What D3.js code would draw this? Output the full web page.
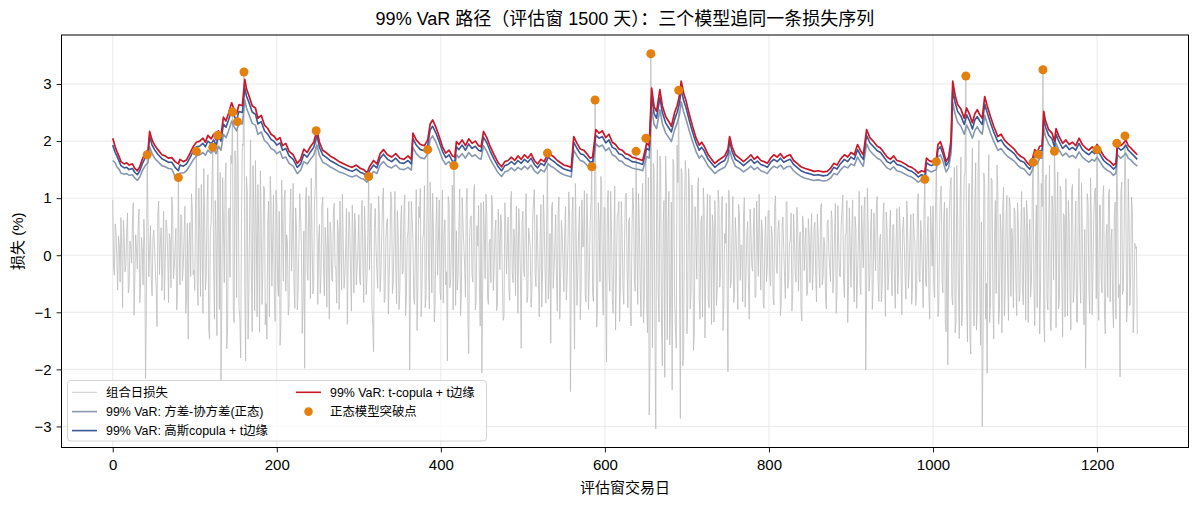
<!DOCTYPE html>
<meta charset="utf-8">
<style>
body {
  margin: 0;
  background: #fff;
  font-family: 'Liberation Sans', 'Noto Sans CJK SC', sans-serif;
}
.axis .domain {
  display: none;
}
.axis text {
  font-size: 15px;
  fill: #000;
}
.grid line {
  stroke: #e4e4e4;
  stroke-width: 0.8;
}
</style>
<svg width="1199" height="505"></svg>
<script src="https://d3js.org/d3.v7.min.js"></script>
<script>
// evaluation days on which the VaR paths were read
var varDays = [
  0,3,5,8,10,14,17,20,24,27,
  30,33,36,40,43,45,48,51,55,60,
  64,68,72,76,80,82,86,90,94,98,
  102,106,110,113,116,120,123,126,129,132,
  135,138,141,145,148,151,154,158,161,163,
  166,170,174,177,181,185,189,193,197,200,
  204,207,211,215,220,225,229,233,237,241,
  245,249,252,256,260,265,270,276,282,288,
  292,297,302,306,310,313,318,322,326,330,
  335,340,345,350,355,360,364,366,370,375,
  380,384,387,390,394,398,402,406,410,414,
  417,419,422,426,430,434,438,442,446,449,
  452,456,460,465,470,474,478,482,486,490,
  494,498,502,506,510,514,518,522,526,531,
  534,538,542,546,550,555,559,562,566,570,
  574,578,582,585,589,593,597,601,605,609,
  613,617,621,625,629,633,638,642,646,651,
  654,657,660,663,667,670,674,678,681,685,
  688,691,693,696,699,703,707,711,715,718,
  721,726,730,734,738,742,746,750,752,755,
  759,764,769,774,778,782,786,790,794,798,
  802,806,810,814,818,822,826,830,835,839,
  844,849,855,860,866,871,875,879,883,887,
  892,896,900,904,908,912,915,919,923,927,
  932,936,940,944,948,952,956,961,966,970,
  974,978,982,986,990,992,995,998,1001,1004,
  1006,1009,1012,1016,1019,1022,1024,1027,1030,1034,
  1038,1041,1045,1048,1051,1054,1057,1060,1063,1066,
  1070,1074,1079,1083,1087,1091,1095,1099,1103,1107,
  1111,1115,1118,1121,1124,1127,1130,1133,1135,1137,
  1141,1145,1148,1150,1153,1158,1162,1166,1170,1174,
  1178,1182,1186,1190,1194,1197,1200,1204,1208,1212,
  1216,1220,1223,1225,1229,1232,1235,1238,1241,1245,
  1249
];

// 99% VaR: t-copula + t margins
var varT = [
  2.05,1.90,1.82,1.72,1.64,1.60,1.62,1.58,1.60,1.52,
  1.48,1.55,1.68,1.80,1.84,2.17,2.02,1.93,1.85,1.76,
  1.74,1.70,1.71,1.64,1.60,1.68,1.64,1.67,1.78,1.90,
  1.98,2.00,2.05,1.98,2.10,2.04,2.12,2.02,2.18,2.10,
  2.42,2.35,2.48,2.67,2.55,2.48,2.64,2.62,3.08,2.92,
  2.80,2.62,2.58,2.40,2.45,2.28,2.22,2.12,2.08,2.02,
  2.06,1.92,1.96,1.82,1.76,1.61,1.68,1.86,1.80,1.90,
  1.98,2.20,1.98,1.84,1.80,1.74,1.70,1.64,1.60,1.56,
  1.54,1.58,1.52,1.50,1.44,1.55,1.66,1.60,1.78,1.85,
  1.76,1.72,1.78,1.70,1.68,1.74,1.68,2.14,2.02,1.94,
  1.92,2.02,2.30,2.37,2.24,2.08,1.90,1.79,1.84,1.74,
  1.72,1.99,1.94,2.02,1.92,2.04,1.96,2.00,1.92,1.90,
  2.17,2.06,1.91,1.76,1.62,1.55,1.64,1.66,1.72,1.66,
  1.74,1.68,1.76,1.70,1.78,1.66,1.60,1.68,1.64,1.80,
  1.76,1.72,1.66,1.62,1.58,1.56,1.54,2.08,1.96,1.86,
  1.84,1.78,1.70,1.72,2.20,2.14,2.18,2.06,2.12,1.98,
  1.94,1.86,1.84,1.78,1.76,1.72,1.70,1.68,1.66,1.96,
  1.92,2.93,2.60,2.52,2.90,2.62,2.43,2.34,2.26,2.50,
  2.62,2.80,3.05,2.84,2.70,2.46,2.25,2.06,1.93,1.98,
  1.91,1.76,1.68,1.61,1.66,1.70,1.74,1.86,2.08,1.90,
  1.76,1.70,1.64,1.70,1.76,1.68,1.73,1.66,1.64,1.61,
  1.70,1.76,1.72,1.78,1.70,1.74,1.76,1.66,1.60,1.55,
  1.52,1.50,1.47,1.48,1.46,1.47,1.52,1.61,1.58,1.68,
  1.76,1.72,1.80,1.76,1.94,1.82,1.76,2.20,2.06,2.00,
  1.91,1.88,1.80,1.72,1.68,1.74,1.66,1.64,1.60,1.56,
  1.54,1.50,1.44,1.48,1.46,1.70,1.66,1.64,1.66,1.68,
  1.94,1.99,1.86,1.64,1.72,2.02,3.05,2.80,2.64,2.56,
  2.40,2.58,2.45,2.32,2.48,2.55,2.46,2.40,2.78,2.62,
  2.43,2.26,2.08,2.12,2.02,1.96,1.91,1.86,1.78,1.73,
  1.70,1.62,1.58,1.68,1.85,1.80,1.91,1.92,2.52,2.36,
  2.20,2.14,2.00,2.22,2.10,1.96,2.02,1.94,1.98,1.92,
  2.05,1.94,1.88,1.84,1.90,1.86,1.94,1.84,1.74,1.68,
  1.64,1.58,1.62,1.99,1.92,1.96,2.02,1.92,1.88,1.82,
  1.76
];

// 99% VaR: Gaussian copula + t margins
var varGauss = [
  1.93,1.80,1.74,1.64,1.57,1.53,1.54,1.50,1.52,1.45,
  1.41,1.48,1.60,1.72,1.76,2.08,1.93,1.85,1.77,1.69,
  1.66,1.63,1.63,1.54,1.48,1.58,1.56,1.60,1.70,1.82,
  1.90,1.91,1.96,1.90,2.00,1.95,2.02,1.93,2.08,2.00,
  2.30,2.24,2.36,2.55,2.44,2.37,2.52,2.50,2.93,2.79,
  2.68,2.51,2.47,2.30,2.34,2.18,2.12,2.03,1.99,1.93,
  1.97,1.84,1.87,1.74,1.68,1.54,1.60,1.77,1.72,1.81,
  1.89,2.10,1.89,1.76,1.72,1.66,1.62,1.57,1.53,1.49,
  1.47,1.51,1.45,1.43,1.37,1.48,1.58,1.53,1.70,1.77,
  1.68,1.64,1.70,1.62,1.61,1.66,1.60,2.05,1.93,1.85,
  1.83,1.93,2.20,2.26,2.14,1.99,1.82,1.71,1.76,1.65,
  1.64,1.90,1.85,1.93,1.84,1.95,1.87,1.91,1.84,1.82,
  2.07,1.97,1.83,1.68,1.55,1.48,1.57,1.59,1.64,1.59,
  1.66,1.61,1.68,1.63,1.70,1.59,1.53,1.61,1.57,1.72,
  1.68,1.64,1.59,1.55,1.51,1.49,1.47,1.98,1.87,1.78,
  1.76,1.70,1.63,1.64,2.10,2.05,2.08,1.97,2.02,1.89,
  1.86,1.78,1.76,1.70,1.68,1.64,1.63,1.61,1.59,1.87,
  1.84,2.78,2.48,2.40,2.76,2.50,2.32,2.23,2.16,2.38,
  2.50,2.67,2.91,2.71,2.58,2.35,2.15,1.97,1.84,1.89,
  1.83,1.68,1.61,1.54,1.59,1.63,1.66,1.78,1.99,1.82,
  1.68,1.63,1.57,1.63,1.68,1.61,1.65,1.59,1.57,1.54,
  1.63,1.68,1.64,1.70,1.63,1.66,1.68,1.59,1.53,1.48,
  1.45,1.43,1.40,1.41,1.39,1.40,1.45,1.54,1.51,1.60,
  1.68,1.64,1.72,1.68,1.85,1.74,1.68,2.10,1.97,1.91,
  1.83,1.80,1.72,1.64,1.61,1.66,1.59,1.57,1.53,1.49,
  1.47,1.43,1.37,1.41,1.39,1.62,1.59,1.57,1.59,1.60,
  1.85,1.90,1.78,1.57,1.64,1.93,2.90,2.67,2.52,2.44,
  2.29,2.46,2.34,2.21,2.37,2.43,2.35,2.29,2.65,2.50,
  2.32,2.16,1.99,2.02,1.93,1.87,1.83,1.78,1.70,1.65,
  1.63,1.55,1.51,1.60,1.77,1.72,1.83,1.84,2.41,2.25,
  2.10,2.04,1.90,2.12,2.01,1.87,1.93,1.85,1.89,1.84,
  1.96,1.85,1.80,1.76,1.82,1.78,1.85,1.76,1.66,1.61,
  1.57,1.51,1.55,1.90,1.84,1.87,1.93,1.84,1.80,1.74,
  1.68
];

// 99% VaR: variance-covariance (normal)
var varNormal = [
  1.66,1.62,1.55,1.50,1.44,1.42,1.43,1.40,1.41,1.35,
  1.31,1.37,1.48,1.58,1.62,1.90,1.78,1.70,1.64,1.57,
  1.55,1.52,1.51,1.38,1.32,1.44,1.44,1.48,1.57,1.67,
  1.74,1.76,1.80,1.75,1.84,1.79,1.86,1.78,1.91,1.84,
  2.12,2.06,2.17,2.35,2.25,2.18,2.32,2.30,2.72,2.58,
  2.47,2.31,2.28,2.12,2.16,2.01,1.96,1.87,1.84,1.78,
  1.82,1.70,1.72,1.61,1.56,1.43,1.49,1.64,1.60,1.68,
  1.75,1.93,1.75,1.63,1.60,1.55,1.51,1.46,1.43,1.39,
  1.37,1.40,1.35,1.33,1.28,1.36,1.47,1.43,1.58,1.64,
  1.56,1.53,1.58,1.51,1.50,1.54,1.49,1.89,1.78,1.71,
  1.69,1.78,2.03,2.09,1.98,1.84,1.68,1.59,1.64,1.54,
  1.53,1.76,1.71,1.78,1.70,1.80,1.73,1.76,1.70,1.68,
  1.92,1.82,1.69,1.56,1.44,1.38,1.46,1.48,1.53,1.48,
  1.54,1.50,1.56,1.51,1.58,1.48,1.43,1.50,1.46,1.60,
  1.56,1.53,1.48,1.44,1.41,1.39,1.37,1.84,1.74,1.66,
  1.64,1.58,1.52,1.53,1.95,1.90,1.93,1.83,1.88,1.76,
  1.73,1.66,1.64,1.58,1.56,1.53,1.51,1.50,1.48,1.73,
  1.70,2.56,2.29,2.22,2.55,2.31,2.14,2.06,1.99,2.20,
  2.31,2.47,2.69,2.51,2.38,2.17,1.99,1.82,1.70,1.75,
  1.69,1.56,1.50,1.43,1.48,1.51,1.54,1.65,1.84,1.69,
  1.56,1.52,1.46,1.51,1.56,1.50,1.54,1.48,1.46,1.43,
  1.51,1.56,1.53,1.58,1.51,1.55,1.56,1.48,1.42,1.38,
  1.35,1.33,1.31,1.32,1.30,1.31,1.35,1.43,1.41,1.49,
  1.56,1.53,1.60,1.57,1.72,1.62,1.56,1.95,1.83,1.77,
  1.70,1.67,1.60,1.53,1.50,1.55,1.48,1.46,1.42,1.39,
  1.37,1.33,1.28,1.32,1.30,1.51,1.48,1.46,1.48,1.50,
  1.72,1.76,1.65,1.46,1.53,1.79,2.68,2.47,2.33,2.26,
  2.12,2.28,2.16,2.05,2.19,2.25,2.17,2.12,2.45,2.31,
  2.14,2.00,1.84,1.87,1.79,1.73,1.69,1.65,1.58,1.53,
  1.51,1.44,1.40,1.49,1.64,1.60,1.70,1.70,2.23,2.09,
  1.95,1.88,1.77,1.96,1.86,1.74,1.79,1.72,1.75,1.70,
  1.81,1.72,1.67,1.63,1.68,1.65,1.72,1.63,1.54,1.49,
  1.46,1.40,1.44,1.76,1.70,1.74,1.79,1.70,1.67,1.61,
  1.56
];

// portfolio daily loss (%) on even days 0,2,4,...,1248
var lossEven = [
  0.97,-0.35,0.42,-0.61,0.18,0.66,-0.92,0.31,-0.18,0.74,-0.55,0.12,0.58,-1.05,0.36,-0.24,0.81,-0.47,0.09,0.63,-2.16,1.76,-0.38,0.52,-0.71,
  0.44,-0.28,-1.25,0.95,0.21,-0.62,0.77,-0.15,0.48,-0.83,0.29,1.02,-0.41,0.15,-0.96,1.36,-0.52,0.68,-0.19,0.86,-0.73,-1.47,0.57,1.08,-0.34,
  -0.62,1.82,-0.88,0.45,1.24,-1.02,0.71,-0.36,1.41,-1.47,0.58,1.89,-1.12,0.34,2.10,-0.95,-2.19,1.36,-0.48,1.62,-1.31,0.83,1.75,2.51,-1.18,
  1.58,2.34,-0.92,-1.80,1.95,3.21,-1.85,1.12,-0.64,2.02,-1.34,0.78,1.66,-1.08,0.42,1.48,-0.86,1.21,-1.22,-1.47,0.95,1.38,-0.54,1.05,-1.16,
  0.88,-0.72,-1.58,1.32,-0.45,1.14,0.36,-1.05,0.67,-0.28,1.26,-0.93,0.51,-0.62,1.08,0.22,-0.81,-1.98,1.19,-0.44,0.73,1.35,-0.68,0.94,2.18,
  -0.86,0.54,-0.32,1.02,-0.71,0.18,0.83,-1.12,0.37,-0.46,0.91,-0.24,0.62,-0.95,0.29,1.07,-0.58,0.14,-1.21,0.76,-0.37,0.88,-0.66,0.43,-0.19,
  0.71,-0.52,0.96,-0.83,0.25,-0.38,1.38,0.47,-0.91,-1.69,0.82,-0.27,1.04,-0.64,0.39,1.18,-0.76,0.58,-1.03,0.21,0.93,-0.48,1.12,-0.85,0.34,
  -0.62,0.87,-0.29,1.06,-0.74,0.41,-2.01,0.95,0.28,-0.86,1.15,-0.53,0.66,-1.08,0.32,1.22,-0.69,1.85,-0.94,0.58,1.09,-1.17,0.44,-0.35,0.97,
  -0.78,1.14,0.36,-0.52,-1.85,0.91,-0.43,1.23,1.57,-0.88,-0.61,0.48,-1.06,1.01,0.19,-0.73,1.17,-1.72,0.64,-0.35,1.08,-0.96,0.52,0.87,-1.24,
  -2.06,0.94,-0.41,0.73,-0.86,0.28,1.05,-0.62,0.39,-0.97,0.81,-0.25,0.56,-1.14,0.92,-0.33,0.67,-0.79,1.12,-0.48,0.23,0.86,-1.02,0.45,-1.63,
  0.77,-0.38,1.08,-0.72,0.34,-0.91,0.62,1.15,-0.55,0.21,-1.08,0.89,-0.31,0.58,-0.84,1.79,-0.46,-1.54,0.93,-0.27,0.71,-0.98,1.02,-0.43,0.36,
  -0.64,0.85,-0.37,1.11,-2.39,0.74,-0.52,1.26,-0.88,0.43,-1.13,0.97,0.18,-0.69,1.08,-0.95,0.56,1.55,-0.81,2.72,-1.26,0.92,-0.47,1.31,-1.05,
  0.82,-1.87,1.14,-0.63,0.47,-1.02,1.21,-0.39,0.75,-1.16,0.94,-0.58,0.31,1.09,-0.92,0.66,-1.24,1.18,-0.47,1.82,-0.86,0.52,-1.08,1.26,-0.71,
  2.05,-1.36,-2.80,3.53,-1.62,1.48,-3.04,1.85,-1.17,1.62,-1.94,0.96,1.74,-1.48,1.12,-0.83,-2.36,1.58,-1.26,1.93,2.89,-2.86,1.44,-1.72,1.66,
  -1.38,1.52,-0.94,1.23,-1.67,0.85,-0.42,1.36,-1.12,0.69,1.18,-1.45,0.54,-0.78,1.05,-1.21,0.47,0.96,-0.88,1.14,-0.56,0.72,-1.32,0.38,0.91,
  -2.04,0.86,-0.47,1.03,-0.68,0.32,-0.95,0.74,0.18,-0.82,1.01,-0.36,0.59,-1.12,0.47,-0.28,0.83,-0.74,0.26,1.07,-0.61,0.44,-0.93,0.68,-0.21,
  0.78,-0.54,0.35,-0.87,1.04,-0.32,0.61,-1.06,0.49,0.12,-0.76,0.93,-0.45,0.27,-0.98,0.72,-0.29,0.84,-0.63,0.41,-1.15,0.56,0.19,-0.71,0.64,
  -0.48,0.73,-0.26,0.58,-0.82,0.34,-0.57,0.91,-0.38,0.16,-0.94,0.62,-0.21,0.78,-0.66,0.43,-1.02,0.87,-0.35,0.52,1.06,-0.74,0.39,-1.18,0.83,
  -0.56,0.97,-0.82,0.46,-0.34,1.12,-0.69,0.28,0.84,-2.01,1.18,-0.63,0.52,-0.95,0.74,-0.27,1.03,-0.81,0.37,-0.58,0.92,-1.07,0.45,-0.36,0.79,
  -0.71,0.54,-0.93,0.82,-0.28,0.46,-1.04,0.67,-0.39,0.95,-0.58,0.31,-0.86,0.73,0.22,-0.64,1.08,-0.47,0.36,-0.92,1.33,-0.55,0.68,-1.12,0.41,
  0.86,-0.74,1.64,-1.08,0.52,1.21,-0.66,0.93,-1.34,-1.92,0.78,1.36,-0.87,1.54,-1.18,0.64,-1.46,1.72,-0.91,1.38,3.14,-1.52,1.26,-1.73,1.88,
  -1.24,1.62,-0.96,2.01,-1.58,-3.00,1.44,-1.12,-2.07,1.76,-0.84,1.31,-1.47,0.96,1.58,-1.21,0.72,-1.36,1.19,-0.63,1.05,-1.14,0.88,0.47,-0.92,
  0.74,-1.06,0.53,-0.68,1.12,-0.87,0.41,0.96,-1.18,0.63,-0.45,1.63,-1.24,0.88,1.77,-1.38,1.26,3.25,-1.52,1.41,-0.96,1.58,-1.32,0.84,1.82,
  -1.27,1.46,-0.78,1.12,-1.43,0.69,1.34,-1.06,0.57,-1.31,1.24,-0.62,0.95,-1.18,1.52,-0.84,0.38,-1.22,-1.98,1.08,-0.57,1.36,-1.04,0.72,1.18,
  1.85,-1.14,0.87,-0.66,1.22,-1.38,0.54,1.06,-0.82,0.46,-1.27,0.93,1.96,-0.74,-2.13,1.28,-0.61,2.09,-1.17,1.34,-0.88,1.02,-1.36,0.21,0.15
];

// portfolio daily loss (%) on odd days 1,3,5,...,1249
var lossOdd = [
  -0.21,0.55,-0.08,0.34,-0.47,0.12,0.61,-0.29,0.43,-0.66,0.25,-0.14,0.92,-0.38,0.07,0.49,-0.83,0.31,-0.52,0.18,-0.95,0.64,0.11,-0.42,0.28,
  0.16,-0.58,0.73,-0.34,0.48,-0.11,-0.79,0.62,0.05,0.38,-0.57,0.84,-0.23,0.47,-0.68,0.09,0.71,-0.45,0.33,-1.02,0.56,0.19,-0.37,0.81,-0.26,
  0.94,-0.46,1.18,-0.72,0.35,1.52,-0.61,0.88,-1.26,0.42,1.33,-0.18,0.96,-1.41,0.67,1.45,-0.83,0.52,1.28,-1.64,0.76,-0.39,1.61,-0.94,1.83,
  -0.74,1.46,-1.12,0.68,1.92,-0.55,1.38,-1.47,0.84,-0.36,1.57,-0.97,0.44,1.24,-1.35,0.62,-0.28,1.16,-0.85,0.53,-1.08,0.97,0.26,-0.71,1.14,
  -0.48,0.77,-1.21,0.46,0.98,-0.63,0.24,-0.88,1.16,0.38,-0.52,0.83,-0.96,0.15,0.69,-1.37,0.42,0.91,-0.27,1.04,-0.76,0.33,-0.55,1.22,0.47,
  0.31,-0.67,0.85,-0.22,0.49,-0.91,0.14,0.58,-0.43,0.76,-0.18,-0.84,0.39,0.95,-0.61,0.27,-0.35,0.82,-0.14,0.51,-0.98,0.36,0.74,-0.52,0.12,
  -0.44,0.63,-0.17,0.86,-0.69,0.38,-0.26,0.91,-1.24,0.47,0.15,-0.58,0.72,-0.31,0.97,-0.83,0.26,0.64,-0.42,1.11,-0.67,0.35,-0.19,0.78,-0.95,
  0.52,-0.33,0.78,-1.06,0.29,0.94,-0.41,0.63,-0.76,0.18,-1.32,0.85,1.17,-0.58,0.36,-0.92,0.71,-0.24,1.28,-0.66,0.47,-0.87,1.02,0.25,-0.63,
  0.36,-0.84,0.62,-0.29,1.03,-0.57,0.21,-0.96,0.74,0.43,-0.38,1.16,-0.71,0.55,-0.18,0.88,-1.12,0.31,0.69,-0.47,1.24,-0.83,0.16,-0.52,0.92,
  -0.62,0.41,1.07,-0.75,0.23,-0.48,0.86,-0.19,0.62,-0.87,0.34,0.71,-0.42,-1.06,0.58,0.17,-0.63,0.94,-0.28,0.46,-0.71,0.13,0.82,-0.36,0.55,
  -0.27,0.66,-0.83,0.48,0.12,-0.62,0.95,-0.34,0.71,-0.46,0.28,-0.91,1.06,-0.22,0.54,-0.77,0.38,0.83,-0.58,0.19,-0.44,0.76,-1.12,0.61,-0.16,
  0.43,-0.78,0.21,0.67,-0.49,1.02,-1.64,0.38,-0.26,0.85,-0.57,0.14,1.13,-0.82,0.47,-0.31,0.92,-0.68,0.26,1.24,-0.93,0.58,1.38,-0.62,0.84,
  -0.58,0.91,-0.36,1.12,-0.74,0.27,-1.31,0.68,0.94,-0.47,0.35,-0.86,1.05,-0.22,0.61,-0.98,0.44,0.78,-0.63,0.29,1.08,-0.51,0.86,-1.19,0.53,
  -0.92,1.36,-1.88,0.74,1.61,-1.42,0.88,-0.67,1.74,-1.26,0.52,-2.14,1.18,0.46,-1.57,0.93,1.68,-0.81,-1.63,1.27,-0.58,1.52,-1.94,0.86,1.43,
  -0.86,1.24,-0.63,0.97,-1.38,0.42,1.16,-0.74,0.58,-1.08,0.83,-0.35,1.07,-0.92,0.26,0.71,-1.17,0.48,-0.56,0.94,-0.32,1.03,-0.78,0.21,-0.65,
  1.14,-0.57,0.38,-0.83,0.66,-0.25,0.89,-0.44,0.17,0.72,-0.91,0.34,-0.52,0.81,-0.18,0.46,-0.73,0.95,-0.37,0.23,0.62,-0.84,0.29,-0.46,0.78,
  -0.36,0.51,-0.72,0.88,-0.24,0.43,0.16,-0.81,0.67,-0.39,0.94,-0.58,0.21,0.74,-0.63,0.32,-0.47,0.56,0.12,-0.88,0.69,-0.27,0.48,-0.66,0.37,
  0.24,-0.61,0.47,-0.35,0.72,-0.18,0.84,-0.52,0.31,-0.77,0.56,0.09,-0.46,0.63,-0.29,0.91,-0.64,0.22,-0.38,0.78,-0.47,0.33,0.96,-0.55,0.18,
  0.42,-0.37,0.68,-0.93,0.26,-0.51,0.87,-0.22,1.02,-0.68,0.47,-0.36,0.81,-0.57,0.14,0.92,-0.43,0.28,-0.82,0.63,-0.29,0.76,-0.61,0.38,-0.17,
  0.53,-0.42,0.27,-0.68,0.84,-0.31,0.46,0.19,-0.77,0.58,-0.24,0.71,-0.53,0.36,-0.88,0.92,-0.39,0.61,-0.26,0.74,-0.48,0.33,-0.72,0.86,-0.19,
  -0.52,0.77,0.34,-0.96,1.08,-0.41,0.62,-1.18,0.83,-0.29,1.21,-0.74,0.48,-1.36,1.57,-0.62,0.93,-1.24,0.38,1.46,-0.87,0.71,-1.48,1.12,-0.45,
  0.86,-1.31,1.47,-0.72,0.58,-1.63,1.26,-0.49,0.94,-1.18,1.35,-0.84,0.41,-0.67,1.12,-0.95,0.37,0.82,-1.06,0.64,-0.38,1.01,-0.72,0.29,0.83,
  -0.47,0.92,-0.81,0.36,-0.58,0.84,-1.14,0.67,0.22,-0.73,1.06,-0.54,0.38,-0.92,1.18,-0.66,0.85,-1.07,1.34,-0.76,0.51,-1.21,1.04,-0.43,1.27,
  0.58,-0.94,1.21,-0.46,0.73,-1.08,0.39,0.96,-0.62,1.14,-0.83,0.27,-1.17,0.88,-0.34,1.26,-0.71,0.45,-0.58,0.93,-1.02,0.64,-0.29,1.11,-0.76,
  -0.63,0.88,-0.42,1.01,-0.97,0.36,-0.74,1.16,0.23,-0.86,0.71,-1.12,0.94,-0.51,1.08,-0.69,0.37,1.22,-0.88,0.61,-0.34,0.78,-0.96,0.12,-1.38
];

// days where the loss broke through the normal-model VaR
var breachDays = [42,80,102,122,128,146,152,160,248,312,384,416,530,584,588,638,650,656,690,990,1004,1040,1122,1128,1134,1148,1200,1224,1234];
var breachLoss = [1.76,1.36,1.82,1.89,2.10,2.51,2.34,3.21,2.18,1.38,1.85,1.57,1.79,1.55,2.72,1.82,2.05,3.53,2.89,1.33,1.64,3.14,1.63,1.77,3.25,1.82,1.85,1.96,2.09];

var xTicks = [0, 200, 400, 600, 800, 1000, 1200];
var yTicks = [-3, -2, -1, 0, 1, 2, 3];

var titleText = "99% VaR 路径（评估窗 1500 天）：三个模型追同一条损失序列";
var xLabel = "评估窗交易日";
var yLabel = "损失 (%)";

var colors = {
  loss: "#bdbdbd",
  normal: "#8898b0",
  gauss: "#3a5897",
  t: "#c8192b",
  dot: "#e3800e"
};

var svg = d3.select("svg"),
    width = +svg.attr("width"),
    height = +svg.attr("height"),
    margin = {left: 61.5, right: 10.5, top: 35, bottom: 57.5};

// daily loss table built from the even / odd day lists
var loss = [];
lossEven.forEach(function(v, i) {
  loss.push({day: 2 * i, value: v});
  if (i < lossOdd.length) loss.push({day: 2 * i + 1, value: lossOdd[i]});
});
var lastDay = loss[loss.length - 1].day;

// matplotlib style 5% margins
var x = d3.scaleLinear()
    .domain([-lastDay * 0.05, lastDay * 1.05])
    .range([margin.left, width - margin.right]);

var ext = d3.extent(loss, function(d) { return d.value; }),
    padY = (ext[1] - ext[0]) * 0.05;
var y = d3.scaleLinear()
    .domain([ext[0] - padY, ext[1] + padY])
    .range([height - margin.bottom, margin.top]);

var g = svg.append("g");

// grid
var grid = g.append("g").attr("class", "grid");
grid.selectAll("line.v").data(xTicks).enter().append("line")
    .attr("class", "v")
    .attr("x1", function(d) { return x(d); }).attr("x2", function(d) { return x(d); })
    .attr("y1", margin.top).attr("y2", height - margin.bottom);
grid.selectAll("line.h").data(yTicks).enter().append("line")
    .attr("class", "h")
    .attr("x1", margin.left).attr("x2", width - margin.right)
    .attr("y1", function(d) { return y(d); }).attr("y2", function(d) { return y(d); });

// loss series
g.append("path")
    .datum(loss)
    .attr("fill", "none")
    .attr("stroke", colors.loss)
    .attr("stroke-width", 0.8)
    .attr("stroke-linejoin", "round")
    .attr("d", d3.line()
      .x(function(d) { return x(d.day); })
      .y(function(d) { return y(d.value); }));

// VaR paths
var varLine = d3.line()
    .x(function(d, i) { return x(varDays[i]); })
    .y(function(d) { return y(d); });

[[varNormal, colors.normal, 1.6], [varGauss, colors.gauss, 1.6], [varT, colors.t, 1.7]].forEach(function(s) {
  g.append("path")
      .datum(s[0])
      .attr("fill", "none")
      .attr("stroke", s[1])
      .attr("stroke-width", s[2])
      .attr("stroke-linejoin", "round")
      .attr("d", varLine);
});

// breach points
g.append("g")
  .selectAll("circle")
  .data(breachDays)
  .enter().append("circle")
    .attr("cx", function(d) { return x(d); })
    .attr("cy", function(d, i) { return y(breachLoss[i]); })
    .attr("r", 4.5)
    .attr("fill", colors.dot);

// frame
g.append("rect")
    .attr("x", margin.left).attr("y", margin.top)
    .attr("width", width - margin.left - margin.right)
    .attr("height", height - margin.top - margin.bottom)
    .attr("fill", "none")
    .attr("stroke", "#000")
    .attr("stroke-width", 1);

// axes
g.append("g")
    .attr("class", "axis")
    .attr("transform", "translate(0," + (height - margin.bottom) + ")")
    .call(d3.axisBottom(x).tickValues(xTicks).tickSize(4.9).tickPadding(7).tickFormat(d3.format("d")));

g.append("g")
    .attr("class", "axis")
    .attr("transform", "translate(" + margin.left + ",0)")
    .call(d3.axisLeft(y).tickValues(yTicks).tickSize(4.9).tickPadding(5).tickFormat(d3.format("d")));

g.selectAll(".axis .tick line").attr("stroke", "#000").attr("stroke-width", 0.9);

// title and labels
svg.append("text")
    .attr("x", (margin.left + width - margin.right) / 2)
    .attr("y", 24.5)
    .attr("text-anchor", "middle")
    .attr("font-size", 18)
    .text(titleText);

svg.append("text")
    .attr("x", (margin.left + width - margin.right) / 2)
    .attr("y", 492.5)
    .attr("text-anchor", "middle")
    .attr("font-size", 15)
    .text(xLabel);

svg.append("text")
    .attr("transform", "translate(23," + ((margin.top + height - margin.bottom) / 2) + ") rotate(-90)")
    .attr("text-anchor", "middle")
    .attr("font-size", 15)
    .text(yLabel);

// legend
var legendItems = [
  {label: "组合日损失", kind: "line", color: colors.loss, w: 0.8, col: 0, row: 0},
  {label: "99% VaR: 方差-协方差(正态)", kind: "line", color: colors.normal, w: 1.6, col: 0, row: 1},
  {label: "99% VaR: 高斯copula + t边缘", kind: "line", color: colors.gauss, w: 1.6, col: 0, row: 2},
  {label: "99% VaR: t-copula + t边缘", kind: "line", color: colors.t, w: 1.6, col: 1, row: 0},
  {label: "正态模型突破点", kind: "dot", color: colors.dot, col: 1, row: 1}
];

var legend = svg.append("g").attr("font-size", 12.4);

legend.append("rect")
    .attr("x", 67.5).attr("y", 380.5)
    .attr("width", 419).attr("height", 60.5)
    .attr("rx", 3)
    .attr("fill", "#fff").attr("fill-opacity", 0.8)
    .attr("stroke", "#d4d4d4").attr("stroke-width", 1);

var colX = [72, 296], rowY = [392.3, 411.6, 430.6];

var li = legend.selectAll("g.item").data(legendItems).enter().append("g")
    .attr("class", "item")
    .attr("transform", function(d) { return "translate(" + colX[d.col] + "," + rowY[d.row] + ")"; });

li.filter(function(d) { return d.kind === "line"; }).append("line")
    .attr("x1", 0).attr("x2", 25)
    .attr("stroke", function(d) { return d.color; })
    .attr("stroke-width", function(d) { return d.w; });

li.filter(function(d) { return d.kind === "dot"; }).append("circle")
    .attr("cx", 12.5).attr("r", 4.3)
    .attr("fill", function(d) { return d.color; });

li.append("text")
    .attr("x", 34)
    .attr("dy", "0.36em")
    .text(function(d) { return d.label; });
</script>
